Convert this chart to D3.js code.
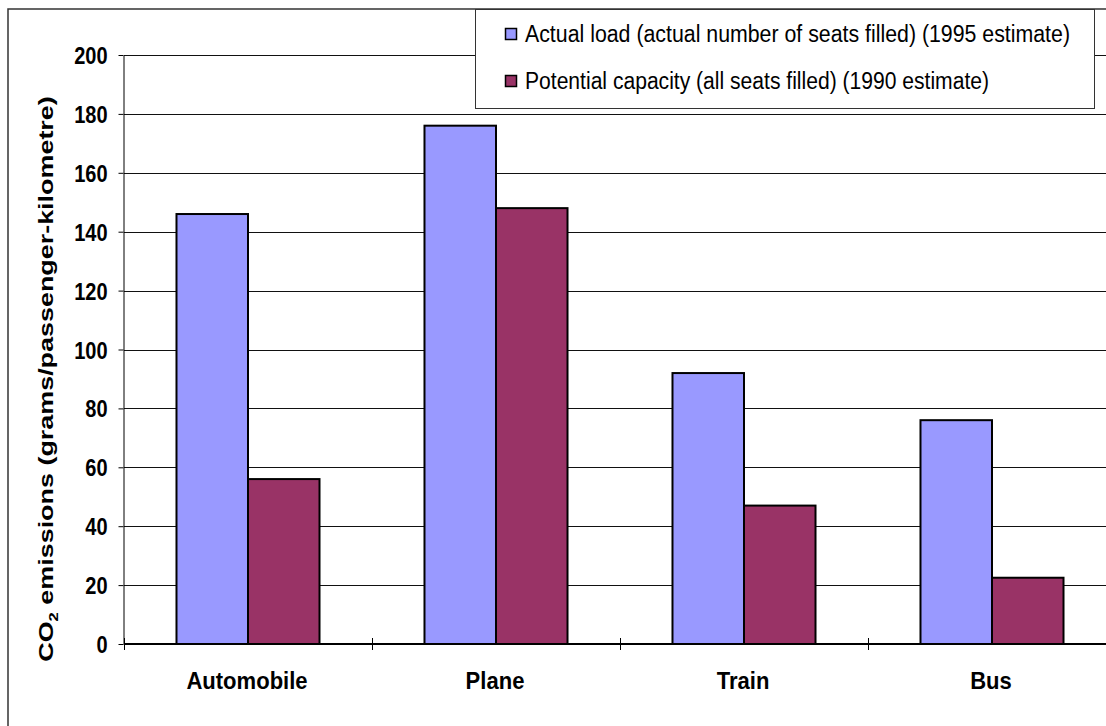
<!DOCTYPE html>
<html>
<head>
<meta charset="utf-8">
<script src="https://cdn.jsdelivr.net/npm/d3@7"></script>
<style>
  html, body { margin: 0; padding: 0; background: #fff; }
  svg { display: block; }
</style>
</head>
<body>
<svg id="chart" width="1106" height="726"></svg>
<script>
// Transport modes and CO2 emissions per passenger-kilometre
const categories = ["Automobile", "Plane", "Train", "Bus"];
const seriesNames = [
  "Actual load (actual number of seats filled) (1995 estimate)",
  "Potential capacity (all seats filled) (1990 estimate)"
];
const actualLoad = [146, 176, 92, 76];
const potentialCapacity = [56, 148, 47, 22.5];
const yTicks = [0, 20, 40, 60, 80, 100, 120, 140, 160, 180, 200];
const seriesColors = ["#9999FF", "#993366"];

const svg = d3.select("#chart");
const font = "'Liberation Sans', Arial, sans-serif";

// Plot area
const plot = { left: 124, right: 1116, top: 55, bottom: 644 };

const y = d3.scaleLinear().domain([0, 200]).range([plot.bottom, plot.top]);
const x = d3.scaleBand().domain(categories).range([plot.left, plot.right]).padding(0);
const xs = d3.scaleBand().domain(seriesNames).range([0, x.bandwidth()])
  .paddingInner(0).paddingOuter(0.734);

// Outer chart frame
svg.append("rect")
  .attr("x", 8).attr("y", 9).attr("width", 1200).attr("height", 800)
  .attr("fill", "none").attr("stroke", "#333").attr("stroke-width", 1.5);

// Horizontal gridlines
svg.append("g").selectAll("line")
  .data(yTicks.filter(d => d > 0))
  .join("line")
  .attr("x1", plot.left).attr("x2", 1106)
  .attr("y1", d => Math.round(y(d)) + 0.5).attr("y2", d => Math.round(y(d)) + 0.5)
  .attr("stroke", "#111").attr("stroke-width", 1);

// Bars
const rows = categories.map((c, i) => ({ cat: c, values: [actualLoad[i], potentialCapacity[i]] }));
svg.append("g").selectAll("g")
  .data(rows)
  .join("g")
  .attr("transform", d => `translate(${x(d.cat)},0)`)
  .selectAll("rect")
  .data(d => d.values.map((v, k) => ({ v, k })))
  .join("rect")
  .attr("x", d => xs(seriesNames[d.k]))
  .attr("y", d => y(d.v))
  .attr("width", xs.bandwidth())
  .attr("height", d => y(0) - y(d.v))
  .attr("fill", d => seriesColors[d.k])
  .attr("stroke", "#000").attr("stroke-width", 2);

// Y axis
const yAxis = d3.axisLeft(y).tickValues(yTicks).tickSize(5).tickSizeOuter(0).tickPadding(10);
const yg = svg.append("g").attr("transform", `translate(${plot.left - 0.5},0)`).call(yAxis);
yg.select(".domain").attr("stroke", "#000").attr("stroke-width", 1);
yg.selectAll(".tick line").attr("stroke", "#000");
yg.selectAll(".tick text")
  .attr("font-family", font).attr("font-weight", "bold").attr("font-size", 23)
  .attr("fill", "#000").attr("dy", null)
  .attr("transform", "scale(0.87,1)")
  .attr("x", -16 / 0.87)
  .attr("y", 8.5);

// X axis baseline with ticks at category boundaries
const xg = svg.append("g");
xg.append("line")
  .attr("x1", plot.left).attr("x2", 1106)
  .attr("y1", plot.bottom).attr("y2", plot.bottom)
  .attr("stroke", "#000").attr("stroke-width", 2);
xg.selectAll("line.tick")
  .data(categories.map(c => x(c)))
  .join("line").attr("class", "tick")
  .attr("x1", d => Math.round(d) + 0.5).attr("x2", d => Math.round(d) + 0.5)
  .attr("y1", plot.bottom - 6).attr("y2", plot.bottom + 6)
  .attr("stroke", "#000").attr("stroke-width", 1);

// Category labels
svg.append("g").selectAll("text")
  .data(categories)
  .join("text")
  .attr("transform", d => `translate(${x(d) + x.bandwidth() / 2 - 1},689) scale(0.9,1)`)
  .attr("text-anchor", "middle")
  .attr("font-family", font).attr("font-weight", "bold").attr("font-size", 24.5)
  .attr("fill", "#000")
  .text(d => d);

// Y axis title with subscript
const title = svg.append("text")
  .attr("font-family", font).attr("font-weight", "bold").attr("font-size", 21)
  .attr("fill", "#000")
  .attr("text-anchor", "middle");
title.append("tspan").text("CO");
title.append("tspan").attr("font-size", 13).attr("dy", 5).text("2");
title.append("tspan").attr("dy", -5).text(" emissions (grams/passenger-kilometre)");
const tw = title.node().getComputedTextLength();
const sx = 566 / tw;
title.attr("transform", `translate(53,379) rotate(-90) scale(${sx},1)`);

// Legend
const legend = svg.append("g");
legend.append("rect")
  .attr("x", 475.5).attr("y", 9.5).attr("width", 619).attr("height", 99)
  .attr("fill", "#fff").attr("stroke", "#333").attr("stroke-width", 1);
const legendRows = seriesNames.map((n, i) => ({ n, i }));
const legendTextLen = [545, 464];
const lg = legend.selectAll("g.item").data(legendRows).join("g").attr("class", "item")
  .attr("transform", d => `translate(0,${d.i * 47})`);
lg.append("rect")
  .attr("x", 505.5).attr("y", 28.5).attr("width", 11).attr("height", 11)
  .attr("fill", d => seriesColors[d.i]).attr("stroke", "#000").attr("stroke-width", 1.5);
lg.append("text")
  .attr("x", 525).attr("y", 42)
  .attr("font-family", font).attr("font-size", 23).attr("fill", "#000")
  .attr("textLength", d => legendTextLen[d.i]).attr("lengthAdjust", "spacingAndGlyphs")
  .text(d => d.n);
</script>
</body>
</html>
